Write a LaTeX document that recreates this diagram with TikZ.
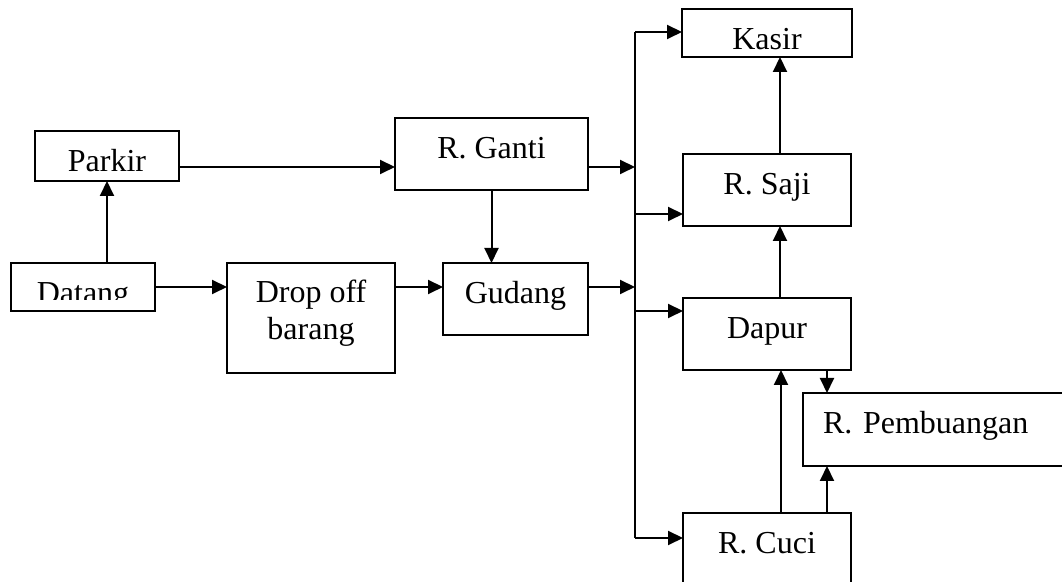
\documentclass[tikz,border=0pt]{standalone}
\usepackage{fontspec}
\setmainfont{Liberation Serif}
\usetikzlibrary{arrows.meta}

\begin{document}
\begin{tikzpicture}[x=0.5pt, y=-0.5pt, line width=1pt,
  font=\fontsize{16}{18.5}\selectfont,
  room/.style 2 args={draw, anchor=north west, inner sep=0pt, outer sep=0pt,
    minimum width=#1, text height=20.5pt, text depth=#2, align=center},
  arr/.style={-{Triangle[length=7.5pt,width=7pt]}}]
\useasboundingbox (0,0) rectangle (1062,582);
\clip (0,0) rectangle (1062,582);

\node[room={72pt}{4.5pt}] (parkir) at (35,131) {Parkir};
\node[room={72pt}{3.5pt}] (datang) at (11,263) {};
\begin{scope}
\clip (11,263) rectangle (155,300);
\node[room={72pt}{3.5pt}, draw=none] at (11,263) {Datang};
\end{scope}
\node[room={84pt}{16.5pt}, text height=38.5pt] (drop) at (227,263) {Drop off\\barang};
\node[room={96.5pt}{15.5pt}] (ganti) at (395,118) {R. Ganti};
\node[room={72.5pt}{15.5pt}] (gudang) at (443,263) {Gudang};
\node[room={85pt}{3.5pt}] (kasir) at (682,9) {Kasir};
\node[room={84pt}{15.5pt}] (saji) at (683,154) {R. Saji};
\node[room={84pt}{15.5pt}] (dapur) at (683,298) {Dapur};
\node[room={138.5pt}{16pt}, inner xsep=10pt, text width=118.5pt, align=left] (pemb) at (803,393) {R. Pembuangan};
\node[room={84pt}{23pt}] (cuci) at (683,513) {R. Cuci};

\coordinate (b1) at (635,32);
\coordinate (b2) at (635,167);
\coordinate (b3) at (635,214);
\coordinate (b4) at (635,287);
\coordinate (b5) at (635,311);
\coordinate (b6) at (635,538);
\coordinate (w1) at ([xshift=30pt]dapur.south);

\draw[arr] (datang.north -| parkir.south) -- (parkir.south);
\draw[arr] ([yshift=-5.5pt]parkir.east) -- ([yshift=-6.5pt]ganti.west);
\draw[arr] (ganti.south) -- (gudang.north -| ganti.south);
\draw[arr] (datang.east) -- (drop.west |- datang.east);
\draw[arr] (drop.east |- datang.east) -- (gudang.west |- datang.east);
\draw[arr] ([yshift=-6.5pt]ganti.east) -- (b2);
\draw[arr] (gudang.east |- datang.east) -- (b4);

\draw (b1) -- (b6);
\draw[arr] (b1) -- (kasir.west |- b1);
\draw[arr] (b3) -- (saji.west |- b3);
\draw[arr] (b5) -- (dapur.west |- b5);
\draw[arr] (b6) -- (cuci.west |- b6);

\draw[arr] ([xshift=6.5pt]saji.north) -- ([xshift=6.5pt]kasir.south);
\draw[arr] ([xshift=6.5pt]dapur.north) -- ([xshift=6.5pt]saji.south);
\draw[arr] ([xshift=7pt]cuci.north) -- ([xshift=7pt]dapur.south);
\draw[arr] (w1) -- (w1 |- pemb.north);
\draw[arr] (w1 |- cuci.north) -- (w1 |- pemb.south);
\end{tikzpicture}
\end{document}
